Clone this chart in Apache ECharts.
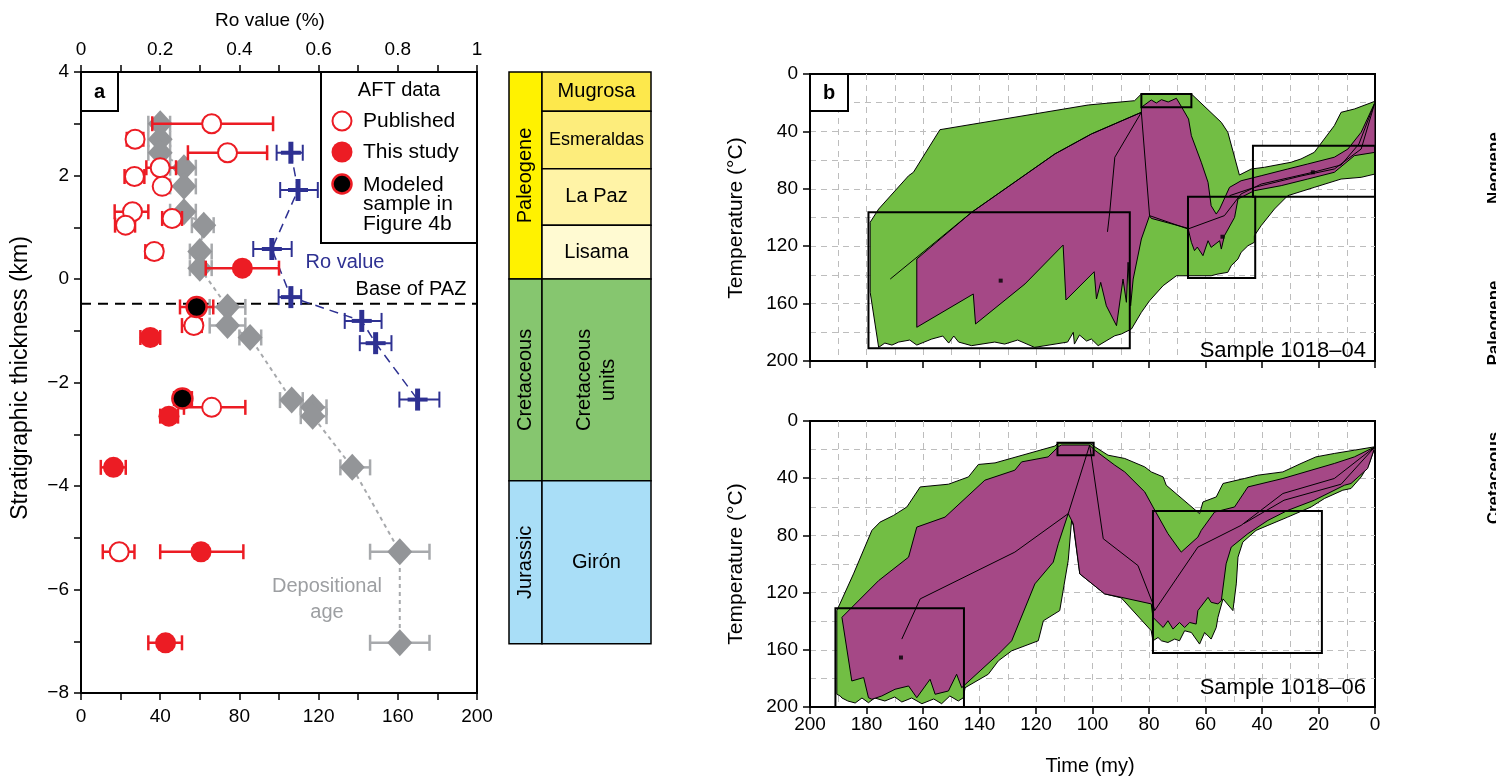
<!DOCTYPE html>
<html>
<head>
<meta charset="utf-8">
<script src="https://cdn.jsdelivr.net/npm/echarts@6.0.0/dist/echarts.min.js"></script>
<style>
  html, body { margin: 0; padding: 0; background: #fff; }
  #chart { width: 1496px; height: 779px; }
</style>
</head>
<body>
<div id="chart"></div>
<script>
// ---------------- Panel a: AFT ages, depositional ages and Ro versus stratigraphic position ----------------
// Published AFT ages (Ma), 1-sigma range, stratigraphic position (km)
const pubDepth = [3.0, 2.7, 2.44, 2.15, 1.98, 1.79, 1.30, 1.17, 1.04, 0.53, -0.9, -2.48, -5.27];
const pubAge   = [66, 27.3, 74, 40, 27, 41, 26, 46, 22.5, 37, 57, 66, 19.3];
const pubLo    = [36, 23.1, 54, 33, 22, 38, 17, 41, 17.2, 32.5, 51, 52, 11];
const pubHi    = [97, 31.5, 94, 48, 32, 44, 34, 51, 27.3, 41, 61, 83, 27];

// AFT ages from this study
const studyDepth = [0.21, -1.13, -2.65, -3.64, -5.27, -7.03];
const studyAge   = [81.5, 35, 44.4, 16.4, 60.6, 42.7];
const studyLo    = [63, 30, 40, 10, 40, 34];
const studyHi    = [100, 40, 49, 22.6, 82, 51];

// Samples modeled in panel b
const modelDepth = [-0.54, -2.31];
const modelAge   = [58.4, 51.2];
const modelLo    = [50, 47];
const modelHi    = [66.8, 56];

// Depositional ages (Ma)
const depoDepth = [3.0, 2.7, 2.44, 2.15, 1.79, 1.30, 1.04, 0.53, 0.21, -0.54, -0.9, -1.13, -2.34, -2.48, -2.65, -3.64, -5.27, -7.03];
const depoAge   = [40, 40, 40, 52, 52, 52, 62, 60, 60, 74, 74, 85.4, 106.4, 117, 117, 137, 161, 161];
const depoLo    = [34, 34, 34, 45, 45, 45, 56, 55, 55, 65, 65, 80, 100.5, 111, 111, 131, 146, 146];
const depoHi    = [45, 45, 45, 58, 58, 58, 67, 66, 66, 83, 83, 91, 112, 124, 124, 146, 176, 176];

// Vitrinite reflectance Ro (%)
const roDepth = [2.44, 1.72, 0.58, -0.35, -0.81, -1.24, -2.33];
const roValue = [0.530, 0.548, 0.482, 0.530, 0.709, 0.744, 0.850];
const roLo    = [0.494, 0.503, 0.435, 0.499, 0.666, 0.704, 0.804];
const roHi    = [0.560, 0.598, 0.532, 0.556, 0.759, 0.784, 0.905];

// Base of the partial annealing zone (km)
const pazDepth = -0.48;

// Stratigraphic column (km)
const periodNames = ['Paleogene', 'Cretaceous', 'Jurassic'];
const periodTop   = [4, 0, -3.9];
const periodBase  = [0, -3.9, -7.05];
const unitNames = ['Mugrosa', 'Esmeraldas', 'La Paz', 'Lisama', 'Cretaceous\nunits', 'Girón'];
const unitTop   = [4, 3.24, 2.13, 1.04, 0, -3.9];
const unitBase  = [3.24, 2.13, 1.04, 0, -3.9, -7.05];

// ---------------- Panel b: thermal history models (time Ma, temperature °C) ----------------
const s04Acceptable = [
  [178.7,103.3],[175.7,94.1],[165.1,70.9],[163.4,68.5],[154.0,38.8],[101.5,21.6],[85.1,18.6],[82.7,13.9],
  [65.0,13.9],[54.4,33.7],[52.1,40.6],[48.0,70.4],[43.8,66.2],[39.1,65.0],[29.7,61.5],[26.2,59.2],
  [21.5,54.6],[14.4,36.0],[12.0,26.7],[7.3,24.4],[0,19.0],[0,69.7],[4.9,72.0],[12.0,73.2],[21.5,79.0],
  [30.9,84.8],[35.6,94.1],[40.3,105.7],[42.7,112.7],[42.7,117.3],[45.0,119.7],[47.4,124.3],[48.5,128.9],
  [50.9,133.6],[52.1,138.2],[55.6,139.4],[58.0,140.6],[66.2,140.6],[70.3,140.6],[75.0,147.5],[79.8,158.0],
  [82.7,166.1],[86.2,177.7],[89.8,181.2],[92.1,182.4],[98.0,189.3],[100.4,184.7],[102.1,186.1],[104.6,181.9],
  [106.4,188.2],[106.8,180.0],[108.8,186.8],[120.5,190.5],[126.5,185.4],[131.1,188.2],[134.6,186.8],
  [142.8,189.3],[147.4,186.8],[149.1,182.6],[150.9,187.5],[153.0,182.6],[156.9,184.7],[162.2,188.9],
  [164.7,185.4],[168.6,186.8],[171.0,188.9],[173.5,187.5],[175.7,190.5],[178.7,152.1]
];
const s04Good = [
  [82.7,23.2],[79.2,18.1],[77.4,20.2],[75.6,17.9],[73.2,19.5],[70.3,16.9],[68.6,22.5],[66.0,31.4],[65.0,43.0],
  [61.5,61.5],[59.1,75.5],[58.0,91.8],[56.2,97.6],[55.0,94.1],[51.5,79.0],[47.4,74.4],[40.3,70.9],[30.9,66.2],
  [23.8,62.7],[14.4,58.0],[9.6,52.3],[4.9,40.6],[0,19.7],[0,54.6],[7.3,56.9],[14.4,68.5],[23.8,73.2],
  [33.2,77.8],[42.7,81.3],[48.5,87.1],[49.7,99.9],[53.3,112.7],[54.4,122.0],[55.0,116.2],[58.0,120.8],
  [59.1,116.2],[60.9,126.6],[62.9,120.6],[63.9,123.1],[65.0,117.3],[66.2,107.5],[79.2,100.6],[79.8,98.7],
  [82.7,115.0],[85.6,142.9],[86.5,161.5],[87.4,131.2],[88.0,159.1],[89.2,142.9],[91.5,175.4],[95.1,161.5],
  [97.1,145.2],[98.6,156.8],[99.4,137.8],[109.4,157.5],[110.4,119.2],[123.9,146.3],[141.4,174.2],
  [142.2,153.3],[162.2,176.5],[162.2,128.9],[142.8,96.4],[113.3,55.7],[100.4,41.8],[82.7,26.7]
];
const s04Paths = [
  [[171.6,142.9],[142.8,96.4],[113.3,55.7],[100.4,41.8],[82.7,26.7]],
  [[82.7,26.7],[92.1,58.0],[93.9,96.4],[94.7,110.0]],
  [[82.7,26.7],[79.8,98.7],[66.2,108.0],[53.3,98.7],[47.4,83.6],[40.3,76.7],[22.0,68.5],[12.0,63.4],[5.7,48.8],[0,19.7]],
  [[51.5,84.8],[42.7,79.0],[26.2,71.1],[14.4,66.2],[4.9,52.3],[0,19.7]]
];
// constraint boxes: [older time, younger time, min T, max T]
const s04Boxes = [[179.3,86.8,96.4,191.1],[82.7,65.0,13.9,23.2],[66.2,42.4,85.5,142.2],[43.2,0,50.0,85.5]];
const s04Points = [[132.5,144.0],[54.0,113.4],[22.0,68.5]];

const s06Acceptable = [
  [190.5,191.1],[190.5,132.6],[184.6,106.9],[178.1,76.5],[175.2,70.7],[170.4,66.0],[165.7,60.1],[161.0,46.1],
  [151.0,44.2],[143.9,39.1],[140.4,30.4],[134.5,29.3],[113.3,17.5],[112.1,15.2],[101.0,15.6],[99.2,18.0],
  [94.5,23.9],[88.6,26.2],[81.5,32.1],[79.2,35.6],[75.0,39.1],[73.9,44.9],[62.1,64.8],[60.9,56.6],[56.2,53.1],
  [53.8,43.7],[46.2,40.2],[41.5,37.9],[32.6,35.6],[26.2,29.7],[20.9,25.1],[14.4,22.7],[7.3,20.4],[0,18.0],
  [2.0,29.7],[4.9,39.1],[8.5,47.2],[11.4,48.4],[17.9,54.2],[22.6,60.1],[30.9,67.2],[37.9,73.0],[42.1,76.5],
  [46.8,84.7],[48.5,95.2],[49.1,113.9],[50.3,132.6],[53.8,124.4],[55.6,137.3],[56.2,144.4],[58.0,152.5],
  [60.3,147.9],[62.1,156.0],[65.0,147.9],[67.4,146.7],[69.2,153.7],[70.9,152.5],[73.3,154.9],[75.6,153.7],
  [76.8,151.4],[78.6,153.7],[79.2,146.7],[89.8,123.7],[95.7,120.9],[104.5,106.9],[106.8,73.0],[107.4,69.5],
  [108.6,97.6],[111.6,132.6],[117.4,139.7],[119.2,153.7],[128.6,160.7],[133.3,167.7],[136.9,177.1],
  [145.1,186.5],[145.7,193.5],[147.5,195.8],[150.5,192.3],[153.4,197.7],[156.2,194.4],[160.4,197.7],
  [164.0,193.7],[167.5,196.5],[170.0,193.0],[173.5,195.8],[177.1,193.7],[179.3,197.0],[181.6,193.7],
  [184.0,197.2],[186.6,195.8],[188.7,193.7],[189.3,192.3]
];
const s06Good = [
  [188.7,137.3],[175.7,111.6],[165.1,95.2],[162.2,74.2],[152.2,67.2],[138.1,41.4],[127.5,34.4],[125.1,28.6],
  [115.7,25.1],[112.1,18.0],[111.0,16.8],[101.1,16.8],[99.2,20.4],[92.1,30.9],[88.6,35.6],[81.5,49.6],
  [78.6,60.1],[73.3,78.8],[68.6,91.7],[62.7,81.2],[61.5,76.5],[56.8,63.7],[49.7,60.1],[45.0,46.1],[32.6,40.2],
  [14.4,29.7],[7.3,25.1],[0,18.0],[2.6,33.2],[8.5,43.7],[10.8,44.9],[21.5,55.4],[30.9,62.5],[37.9,69.5],
  [45.0,78.8],[50.9,88.2],[52.7,99.9],[54.4,125.6],[55.6,127.9],[58.0,126.8],[59.1,123.3],[62.7,132.6],
  [63.3,142.0],[65.6,140.9],[67.4,144.4],[69.2,140.9],[71.5,145.5],[73.3,139.7],[75.0,144.4],[78.6,137.3],
  [79.2,127.9],[89.8,123.3],[95.7,120.9],[104.5,106.9],[106.8,71.8],[108.6,64.8],[112.1,85.8],[113.9,98.7],
  [120.4,113.9],[128.6,153.7],[133.3,163.0],[146.3,186.5],[148.1,177.1],[151.0,188.8],[155.7,191.1],
  [157.5,180.6],[162.2,193.5],[165.1,185.3],[169.9,187.6],[174.6,192.3],[178.1,194.6],[179.3,193.5],
  [181.0,179.4],[185.2,181.8]
];
const s06Paths = [
  [[167.5,152.5],[161.0,124.4],[127.5,91.7],[108.6,64.8],[101.0,16.8]],
  [[101.0,16.8],[96.2,82.3],[83.9,101.1],[78.6,127.9],[78.0,132.6]],
  [[78.0,132.6],[62.7,88.2],[47.4,73.0],[32.6,50.7],[14.4,40.2],[0,18.0]],
  [[46.3,71.6],[32.2,55.4],[12.0,44.2],[0,18.0]]
];
const s06Boxes = [[191.0,145.5,131.0,200.0],[112.4,99.6,15.2,23.9],[78.6,18.8,63.0,162.3]];
const s06Points = [[167.8,165.4]];

// ---------------- styling ----------------
const FONT = '"Liberation Sans", Arial, Helvetica, sans-serif';
const RED = '#ec1c24', BLUE = '#2e3192', GRAY = '#939598', GRAYLINE = '#a7a9ac';
const GREEN = '#72be44', PURPLE = '#a54886';
const periodColors = ['#fff200', '#86c66f', '#a9def7'];
const unitColors = ['#fde84c', '#fded7c', '#fff3a6', '#fffad2', '#86c66f', '#a9def7'];
const unitFontSize = { 'Esmeraldas': 18 };
const minus = v => String(v).replace('-', '\u2212');

const chart = echarts.init(document.getElementById('chart'), null, { renderer: 'canvas' });

const zip3 = (lo, hi, y) => lo.map((v, i) => [v, hi[i], y[i]]);
const pairs = (x, y) => x.map((v, i) => [v, y[i]]);

function errorBar(color, cap, lw) {
  return function (params, api) {
    const y = api.value(2);
    const a = api.coord([api.value(0), y]);
    const b = api.coord([api.value(1), y]);
    const st = { stroke: color, lineWidth: lw };
    return { type: 'group', children: [
      { type: 'line', shape: { x1: a[0], y1: a[1], x2: b[0], y2: b[1] }, style: st },
      { type: 'line', shape: { x1: a[0], y1: a[1] - cap / 2, x2: a[0], y2: a[1] + cap / 2 }, style: st },
      { type: 'line', shape: { x1: b[0], y1: b[1] - cap / 2, x2: b[0], y2: b[1] + cap / 2 }, style: st }
    ]};
  };
}

function roCross(params, api) {
  const y = api.value(3);
  const a = api.coord([api.value(0), y]);
  const b = api.coord([api.value(1), y]);
  const c = api.coord([api.value(2), y]);
  const thin = { stroke: BLUE, lineWidth: 2 };
  return { type: 'group', children: [
    { type: 'line', shape: { x1: a[0], y1: a[1], x2: b[0], y2: b[1] }, style: thin },
    { type: 'line', shape: { x1: a[0], y1: a[1] - 8, x2: a[0], y2: a[1] + 8 }, style: thin },
    { type: 'line', shape: { x1: b[0], y1: b[1] - 8, x2: b[0], y2: b[1] + 8 }, style: thin },
    { type: 'line', shape: { x1: c[0], y1: c[1] - 11, x2: c[0], y2: c[1] + 11 }, style: { stroke: BLUE, lineWidth: 5 } },
    { type: 'line', shape: { x1: c[0] - 10, y1: c[1], x2: c[0] + 10, y2: c[1] }, style: { stroke: BLUE, lineWidth: 4 } }
  ]};
}

function envelope(xi, yi, pts, fill, z) {
  return {
    type: 'custom', xAxisIndex: xi, yAxisIndex: yi, z: z, silent: true,
    data: [pts[0]],
    renderItem: (params, api) => ({
      type: 'polygon',
      shape: { points: pts.map(p => api.coord(p)) },
      style: { fill: fill, stroke: '#000', lineWidth: 1 }
    })
  };
}

function paths(xi, yi, list, z) {
  return list.map(p => ({
    type: 'line', xAxisIndex: xi, yAxisIndex: yi, z: z, silent: true,
    data: p, symbol: 'none', lineStyle: { color: '#000', width: 1 }
  }));
}

function boxes(xi, yi, list, z) {
  return {
    type: 'custom', xAxisIndex: xi, yAxisIndex: yi, z: z, silent: true,
    data: list,
    renderItem: (params, api) => {
      const p1 = api.coord([api.value(0), api.value(2)]);
      const p2 = api.coord([api.value(1), api.value(3)]);
      return { type: 'rect',
        shape: { x: Math.min(p1[0], p2[0]), y: Math.min(p1[1], p2[1]), width: Math.abs(p2[0] - p1[0]), height: Math.abs(p2[1] - p1[1]) },
        style: { fill: 'none', stroke: '#000', lineWidth: 2 } };
    }
  };
}

function column(names, tops, bases, colors, x0, x1, rotated) {
  return {
    type: 'custom', xAxisIndex: 2, yAxisIndex: 1, silent: true, z: 2,
    data: names.map((n, i) => [x0, x1, tops[i], bases[i], i]),
    renderItem: (params, api) => {
      const i = api.value(4);
      const p1 = api.coord([api.value(0), api.value(2)]);
      const p2 = api.coord([api.value(1), api.value(3)]);
      const cx = (p1[0] + p2[0]) / 2, cy = (p1[1] + p2[1]) / 2;
      const name = names[i];
      const vertical = rotated || name.indexOf('\n') >= 0;
      const fs = unitFontSize[name] || 20;
      return { type: 'group', children: [
        { type: 'rect', shape: { x: p1[0], y: p1[1], width: p2[0] - p1[0], height: p2[1] - p1[1] },
          style: { fill: colors[i], stroke: '#000', lineWidth: 1.5 } },
        { type: 'text', x: cx, y: cy, rotation: vertical ? Math.PI / 2 : 0,
          style: { text: name, align: 'center', verticalAlign: 'middle', fill: '#000',
                   font: fs + 'px ' + FONT, lineHeight: 24 } }
      ]};
    }
  };
}

const axisLineBlack = { show: true, onZero: false, lineStyle: { color: '#000', width: 2 } };
const tickOut = { show: true, inside: false, length: 7, lineStyle: { color: '#000', width: 1.5 } };
const labelStyle = { color: '#000', fontFamily: FONT, fontSize: 19 };
const gridDash = { show: true, showMinLine: false, showMaxLine: false, lineStyle: { color: '#bdbdbd', type: [6, 5], width: 1 } };

const option = {
  animation: false,
  backgroundColor: '#fff',
  grid: [
    { left: 81, top: 72, width: 396, height: 621, show: true, borderColor: '#000', borderWidth: 2 },
    { left: 509, top: 72, width: 142, height: 621, show: false },
    { left: 810, top: 74, width: 565, height: 287, show: true, borderColor: '#000', borderWidth: 2 },
    { left: 810, top: 421, width: 565, height: 286, show: true, borderColor: '#000', borderWidth: 2 }
  ],
  xAxis: [
    { gridIndex: 0, type: 'value', position: 'bottom', min: 0, max: 200, interval: 20,
      axisLine: axisLineBlack, axisTick: tickOut, splitLine: { show: false },
      axisLabel: { ...labelStyle, margin: 14, formatter: v => (v % 40 === 0 ? String(v) : '') } },
    { gridIndex: 0, type: 'value', position: 'top', min: 0, max: 1, interval: 0.1,
      axisLine: axisLineBlack, axisTick: tickOut, splitLine: { show: false },
      axisLabel: { ...labelStyle, margin: 13, formatter: v => {
        const k = Math.round(v * 10);
        if (k % 2 !== 0) return '';
        return k === 0 ? '0' : (k === 10 ? '1' : (k / 10).toFixed(1));
      } } },
    { gridIndex: 1, type: 'value', min: 0, max: 1, show: false },
    { gridIndex: 2, type: 'value', position: 'bottom', inverse: true, min: 0, max: 200, interval: 20,
      axisLine: axisLineBlack, axisTick: tickOut, axisLabel: { show: false },
      splitLine: gridDash, minorTick: { show: false, splitNumber: 2 }, minorSplitLine: gridDash },
    { gridIndex: 3, type: 'value', position: 'bottom', inverse: true, min: 0, max: 200, interval: 20,
      axisLine: axisLineBlack, axisTick: tickOut, axisLabel: { ...labelStyle, margin: 8 },
      splitLine: gridDash, minorTick: { show: false, splitNumber: 2 }, minorSplitLine: gridDash }
  ],
  yAxis: [
    { gridIndex: 0, type: 'value', position: 'left', min: -8, max: 4, interval: 1,
      axisLine: axisLineBlack, axisTick: tickOut, splitLine: { show: false },
      axisLabel: { ...labelStyle, margin: 12, formatter: v => (v % 2 === 0 ? minus(v) : '') } },
    { gridIndex: 1, type: 'value', min: -8, max: 4, show: false },
    { gridIndex: 2, type: 'value', position: 'left', inverse: true, min: 0, max: 200, interval: 40,
      axisLine: axisLineBlack, axisTick: tickOut, axisLabel: { ...labelStyle, margin: 12 },
      splitLine: gridDash, minorTick: { show: false, splitNumber: 2 }, minorSplitLine: gridDash },
    { gridIndex: 3, type: 'value', position: 'left', inverse: true, min: 0, max: 200, interval: 40,
      axisLine: axisLineBlack, axisTick: tickOut, axisLabel: { ...labelStyle, margin: 12 },
      splitLine: gridDash, minorTick: { show: false, splitNumber: 2 }, minorSplitLine: gridDash }
  ],
  series: [
    // panel a
    { type: 'line', xAxisIndex: 0, yAxisIndex: 0, z: 2, silent: true, symbol: 'none',
      data: [[0, pazDepth], [200, pazDepth]], lineStyle: { color: '#000', width: 2, type: [10, 7] } },
    { type: 'line', xAxisIndex: 0, yAxisIndex: 0, z: 3, silent: true, symbol: 'none',
      data: pairs(depoAge, depoDepth), lineStyle: { color: GRAYLINE, width: 2, type: [4, 4] } },
    { type: 'custom', xAxisIndex: 0, yAxisIndex: 0, z: 4, silent: true,
      data: zip3(depoLo, depoHi, depoDepth), renderItem: errorBar(GRAYLINE, 16, 2.5) },
    { type: 'scatter', xAxisIndex: 0, yAxisIndex: 0, z: 5, silent: true, symbol: 'diamond', symbolSize: [25, 27],
      data: pairs(depoAge, depoDepth), itemStyle: { color: GRAY, opacity: 1 } },
    { type: 'line', xAxisIndex: 1, yAxisIndex: 0, z: 6, silent: true, symbol: 'none',
      data: pairs(roValue, roDepth), lineStyle: { color: BLUE, width: 1.5, type: [9, 6] } },
    { type: 'custom', xAxisIndex: 1, yAxisIndex: 0, z: 7, silent: true,
      data: roLo.map((v, i) => [v, roHi[i], roValue[i], roDepth[i]]), renderItem: roCross },
    { type: 'custom', xAxisIndex: 0, yAxisIndex: 0, z: 8, silent: true,
      data: zip3(pubLo, pubHi, pubDepth), renderItem: errorBar(RED, 15, 2.5) },
    { type: 'custom', xAxisIndex: 0, yAxisIndex: 0, z: 8, silent: true,
      data: zip3(studyLo, studyHi, studyDepth), renderItem: errorBar(RED, 15, 2.5) },
    { type: 'custom', xAxisIndex: 0, yAxisIndex: 0, z: 8, silent: true,
      data: zip3(modelLo, modelHi, modelDepth), renderItem: errorBar(RED, 15, 2.5) },
    { type: 'scatter', xAxisIndex: 0, yAxisIndex: 0, z: 9, silent: true, symbolSize: 19,
      data: pairs(pubAge, pubDepth), itemStyle: { color: '#fff', borderColor: RED, borderWidth: 2, opacity: 1 } },
    { type: 'scatter', xAxisIndex: 0, yAxisIndex: 0, z: 9, silent: true, symbolSize: 21,
      data: pairs(studyAge, studyDepth), itemStyle: { color: RED, opacity: 1 } },
    { type: 'scatter', xAxisIndex: 0, yAxisIndex: 0, z: 10, silent: true, symbolSize: 20,
      data: pairs(modelAge, modelDepth), itemStyle: { color: '#000', borderColor: RED, borderWidth: 2.5, opacity: 1 } },
    // stratigraphic column
    column(periodNames, periodTop, periodBase, periodColors, 0, 33 / 142, true),
    column(unitNames, unitTop, unitBase, unitColors, 33 / 142, 1, false),
    // panel b, sample 1018-04
    envelope(3, 2, s04Acceptable, GREEN, 2),
    envelope(3, 2, s04Good, PURPLE, 3),
    ...paths(3, 2, s04Paths, 4),
    boxes(3, 2, s04Boxes, 5),
    { type: 'scatter', xAxisIndex: 3, yAxisIndex: 2, z: 6, silent: true, symbol: 'rect', symbolSize: 4,
      data: s04Points, itemStyle: { color: '#000' } },
    // panel b, sample 1018-06
    envelope(4, 3, s06Acceptable, GREEN, 2),
    envelope(4, 3, s06Good, PURPLE, 3),
    ...paths(4, 3, s06Paths, 4),
    boxes(4, 3, s06Boxes, 5),
    { type: 'scatter', xAxisIndex: 4, yAxisIndex: 3, z: 6, silent: true, symbol: 'rect', symbolSize: 4,
      data: s06Points, itemStyle: { color: '#000' } }
  ],
  graphic: [
    // axis titles
    { type: 'text', x: 270, y: 21, z: 20, style: { text: 'Ro value (%)', align: 'center', verticalAlign: 'middle', font: '19px ' + FONT, fill: '#000' } },
    { type: 'text', x: 21, y: 378, rotation: Math.PI / 2, z: 20, style: { text: 'Stratigraphic thickness (km)', align: 'center', verticalAlign: 'middle', font: '23px ' + FONT, fill: '#000' } },
    { type: 'text', x: 736, y: 218, rotation: Math.PI / 2, z: 20, style: { text: 'Temperature (°C)', align: 'center', verticalAlign: 'middle', font: '21px ' + FONT, fill: '#000' } },
    { type: 'text', x: 736, y: 564, rotation: Math.PI / 2, z: 20, style: { text: 'Temperature (°C)', align: 'center', verticalAlign: 'middle', font: '21px ' + FONT, fill: '#000' } },
    { type: 'text', x: 1090, y: 766, z: 20, style: { text: 'Time (my)', align: 'center', verticalAlign: 'middle', font: '20px ' + FONT, fill: '#000' } },
    // panel letters
    { type: 'rect', x: 81, y: 72, z: 20, shape: { width: 37, height: 39 }, style: { fill: '#fff', stroke: '#000', lineWidth: 2 } },
    { type: 'text', x: 99.5, y: 92, z: 21, style: { text: 'a', align: 'center', verticalAlign: 'middle', font: 'bold 20px ' + FONT, fill: '#000' } },
    { type: 'rect', x: 810, y: 74, z: 20, shape: { width: 38, height: 37 }, style: { fill: '#fff', stroke: '#000', lineWidth: 2 } },
    { type: 'text', x: 829, y: 93, z: 21, style: { text: 'b', align: 'center', verticalAlign: 'middle', font: 'bold 20px ' + FONT, fill: '#000' } },
    // panel a annotations
    { type: 'text', x: 345, y: 262, z: 20, style: { text: 'Ro value', align: 'center', verticalAlign: 'middle', font: '20px ' + FONT, fill: BLUE } },
    { type: 'text', x: 411, y: 289, z: 20, style: { text: 'Base of PAZ', align: 'center', verticalAlign: 'middle', font: '20px ' + FONT, fill: '#000' } },
    { type: 'text', x: 327, y: 599, z: 20, style: { text: 'Depositional\nage', align: 'center', verticalAlign: 'middle', font: '20px ' + FONT, lineHeight: 26, fill: '#9d9fa2' } },
    // legend
    { type: 'rect', x: 321, y: 72, z: 20, shape: { width: 156, height: 171 }, style: { fill: '#fff', stroke: '#000', lineWidth: 2 } },
    { type: 'text', x: 399, y: 90, z: 21, style: { text: 'AFT data', align: 'center', verticalAlign: 'middle', font: '20px ' + FONT, fill: '#000' } },
    { type: 'circle', z: 21, shape: { cx: 342, cy: 121, r: 9.5 }, style: { fill: '#fff', stroke: RED, lineWidth: 2 } },
    { type: 'text', x: 363, y: 121, z: 21, style: { text: 'Published', align: 'left', verticalAlign: 'middle', font: '21px ' + FONT, fill: '#000' } },
    { type: 'circle', z: 21, shape: { cx: 342, cy: 152, r: 10.5 }, style: { fill: RED } },
    { type: 'text', x: 363, y: 152, z: 21, style: { text: 'This study', align: 'left', verticalAlign: 'middle', font: '21px ' + FONT, fill: '#000' } },
    { type: 'circle', z: 21, shape: { cx: 342, cy: 184, r: 9.5 }, style: { fill: '#000', stroke: RED, lineWidth: 2.5 } },
    { type: 'text', x: 363, y: 175, z: 21, style: { text: 'Modeled\nsample in\nFigure 4b', align: 'left', verticalAlign: 'top', font: '21px ' + FONT, lineHeight: 19.5, fill: '#000' } },
    // sample labels
    { type: 'text', x: 1366, y: 351, z: 20, style: { text: 'Sample 1018\u201304', align: 'right', verticalAlign: 'middle', font: '22px ' + FONT, fill: '#000' } },
    { type: 'text', x: 1366, y: 688, z: 20, style: { text: 'Sample 1018\u201306', align: 'right', verticalAlign: 'middle', font: '22px ' + FONT, fill: '#000' } },
    // period labels of the adjoining column at the right edge
    { type: 'text', x: 1494, y: 168, rotation: Math.PI / 2, z: 20, style: { text: 'Neogene', align: 'center', verticalAlign: 'middle', font: 'bold 17px ' + FONT, fill: '#000' } },
    { type: 'text', x: 1494, y: 323, rotation: Math.PI / 2, z: 20, style: { text: 'Paleogene', align: 'center', verticalAlign: 'middle', font: 'bold 17px ' + FONT, fill: '#000' } },
    { type: 'text', x: 1494, y: 478, rotation: Math.PI / 2, z: 20, style: { text: 'Cretaceous', align: 'center', verticalAlign: 'middle', font: 'bold 17px ' + FONT, fill: '#000' } }
  ]
};

chart.setOption(option);
</script>
</body>
</html>
